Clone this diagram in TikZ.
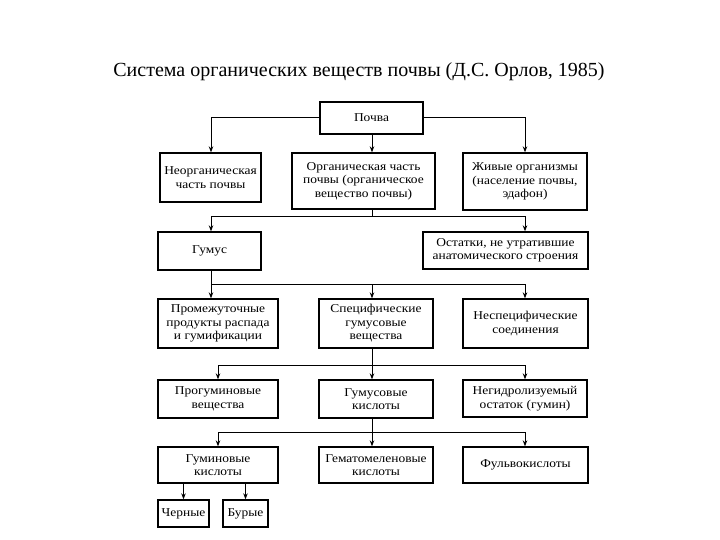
\documentclass[tikz,border=0pt]{standalone}
\usepackage{fontspec}
\setmainfont{Liberation Serif}
\newfontfamily\boxfont[FakeStretch=1.12]{Liberation Serif}
\usetikzlibrary{arrows.meta}
\begin{document}
\begin{tikzpicture}[x=1pt,y=-1pt,
  box/.style={draw=black, line width=1.3pt, inner sep=1pt, align=center,
    font=\boxfont\fontsize{12}{13.5}\selectfont, text=black},
  conn/.style={line width=1pt, -{Stealth[length=6pt,width=4.5pt]}},
  line/.style={line width=1pt}]
\useasboundingbox (0,0) rectangle (720,540);
\node[font=\fontsize{20}{24}\selectfont] (title) at (359,72) {Система органических веществ почвы (Д.С. Орлов, 1985)};
% boxes
\node[box, minimum width=103pt, minimum height=32pt] (pochva) at (371.5,118) {Почва};
\node[box, minimum width=101pt, minimum height=49pt] (neorg) at (210.5,177.5) {Неорганическая\\часть почвы};
\node[box, minimum width=143pt, minimum height=56pt] (org) at (363.5,181) {Органическая часть\\почвы (органическое\\вещество почвы)};
\node[box, minimum width=124pt, minimum height=57pt] (zhiv) at (525,181.5) {Живые организмы\\(население почвы,\\эдафон)};
\node[box, minimum width=103pt, minimum height=38pt] (gumus) at (209.5,251) {Гумус};
\node[box, minimum width=165pt, minimum height=37pt] (ostatki) at (505.5,250.5) {Остатки, не утратившие\\анатомического строения};
\node[box, minimum width=120pt, minimum height=49pt] (prom) at (218,323.5) {Промежуточные\\продукты распада\\и гумификации};
\node[box, minimum width=114pt, minimum height=49pt] (spec) at (376,323.5) {Специфические\\гумусовые\\вещества};
\node[box, minimum width=125pt, minimum height=49pt] (nespec) at (525.5,323.5) {Неспецифические\\соединения};
\node[box, minimum width=120pt, minimum height=38pt] (progum) at (218,399) {Прогуминовые\\вещества};
\node[box, minimum width=114pt, minimum height=38pt] (gumk) at (376,399) {Гумусовые\\кислоты};
\node[box, minimum width=124pt, minimum height=37pt] (negidr) at (525,398.5) {Негидролизуемый\\остаток (гумин)};
\node[box, minimum width=120pt, minimum height=36pt] (gumin) at (218,465) {Гуминовые\\кислоты};
\node[box, minimum width=114pt, minimum height=36pt] (gemat) at (376,465) {Гематомеленовые\\кислоты};
\node[box, minimum width=125pt, minimum height=36pt] (fulvo) at (525.5,465) {Фульвокислоты};
\node[box, minimum width=51pt, minimum height=27pt] (chern) at (183.5,513.5) {Черные};
\node[box, minimum width=45pt, minimum height=27pt] (bur) at (245.5,513.5) {Бурые};
% columns
\coordinate (cA) at (211,0);
\coordinate (cA2) at (218,0);
\coordinate (cB) at (372,0);
\coordinate (cC) at (525,0);
\coordinate (j1) at (372,217);
\coordinate (j2) at (211,284);
\coordinate (j3) at (372,365);
\coordinate (j4) at (372,432);
% level 1
\draw[conn] (pochva.west) -| (cA |- neorg.north);
\draw[conn] (pochva.east) -| (cC |- zhiv.north);
\draw[conn] (cB |- pochva.south) -- (cB |- org.north);
% level 2
\draw[line] (cB |- org.south) -- (j1);
\draw[conn] (j1) -| (cA |- gumus.north);
\draw[conn] (j1) -| (cC |- ostatki.north);
% level 3
\draw[line] (cA |- gumus.south) -- (j2) -- (j2 -| cC);
\draw[conn] (j2) -- (cA |- prom.north);
\draw[conn] (j2 -| cB) -- (cB |- spec.north);
\draw[conn] (j2 -| cC) -- (cC |- nespec.north);
% level 4
\draw[line] (cB |- spec.south) -- (j3);
\draw[conn] (j3) -| (cA2 |- progum.north);
\draw[conn] (j3) -| (cC |- negidr.north);
\draw[conn] (j3) -- (cB |- gumk.north);
% level 5
\draw[line] (cB |- gumk.south) -- (j4);
\draw[conn] (j4) -| (cA2 |- gumin.north);
\draw[conn] (j4) -| (cC |- fulvo.north);
\draw[conn] (j4) -- (cB |- gemat.north);
% level 6
\draw[conn] (chern.north |- gumin.south) -- (chern.north);
\draw[conn] (bur.north |- gumin.south) -- (bur.north);
\end{tikzpicture}
\end{document}
